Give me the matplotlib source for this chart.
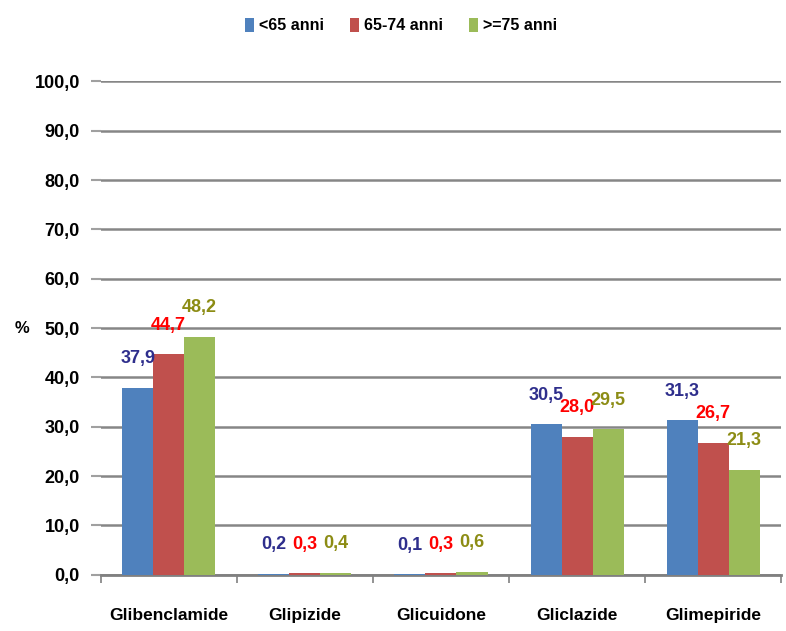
import matplotlib
matplotlib.use("Agg")
import matplotlib.pyplot as plt
import numpy as np

# Sulfonylurea use by age group (%)
farmaci = ["Glibenclamide", "Glipizide", "Glicuidone", "Gliclazide", "Glimepiride"]
fasce = ["<65 anni", "65-74 anni", ">=75 anni"]
under65 = [37.9, 0.2, 0.1, 30.5, 31.3]
da65a74 = [44.7, 0.3, 0.3, 28.0, 26.7]
over75 = [48.2, 0.4, 0.6, 29.5, 21.3]
ticks_y = [0, 10, 20, 30, 40, 50, 60, 70, 80, 90, 100]

bar_colors = ["#4F81BD", "#C0504D", "#9BBB59"]
label_colors = ["#2E2E8C", "#FF0000", "#8C8C14"]
font = ["Liberation Sans", "DejaVu Sans"]

fig = plt.figure(figsize=(7.86, 6.31), dpi=100)
ax = fig.add_axes([0.128, 0.089, 0.866, 0.782])

x = np.arange(len(farmaci))
w = 0.228
series = [under65, da65a74, over75]
for i, vals in enumerate(series):
    pos = x + (i - 1) * w
    ax.bar(pos, vals, width=w, color=bar_colors[i], label=fasce[i], zorder=3)
    for px, v in zip(pos, vals):
        ax.annotate(f"{v:.1f}".replace(".", ","), (px, v), xytext=(0, 21),
                    textcoords="offset points", ha="center", va="center",
                    fontsize=13, fontweight="bold", color=label_colors[i],
                    family=font, zorder=4)

ax.set_xlim(-0.5, 4.5)
ax.set_ylim(0, 100)
ax.set_yticks(ticks_y)
ax.set_yticklabels([f"{t:.1f}".replace(".", ",") for t in ticks_y],
                   fontsize=13, fontweight="bold", family=font)
ax.yaxis.grid(True, color="#868686", linewidth=1.8, zorder=0)
ax.tick_params(axis="y", length=7, width=1.5, color="#A0A0A0", pad=8)

# category separators on the x axis
ax.set_xticks(x)
ax.set_xticklabels(farmaci, fontsize=12.5, fontweight="bold", family=font)
ax.set_xticks(np.arange(-0.5, 5.0, 1.0), minor=True)
ax.tick_params(axis="x", which="major", length=0, pad=24)
ax.tick_params(axis="x", which="minor", length=6, width=1.2, color="#808080")

for s in ["left", "right", "top"]:
    ax.spines[s].set_visible(False)
ax.spines["bottom"].set_color("#808080")
ax.spines["bottom"].set_linewidth(2)

ax.set_ylabel("%", rotation=0, fontsize=12, fontweight="bold", family=font,
              va="center", ha="center")
ax.yaxis.set_label_coords(-0.116, 0.5)

fig.legend(loc="upper center", bbox_to_anchor=(0.51, 0.995), ncol=3, frameon=False,
           prop={"family": font, "size": 11.5, "weight": "bold"},
           handlelength=0.6, handleheight=1.0, handletextpad=0.3, columnspacing=1.6)

fig.savefig("out.png", dpi=100)
